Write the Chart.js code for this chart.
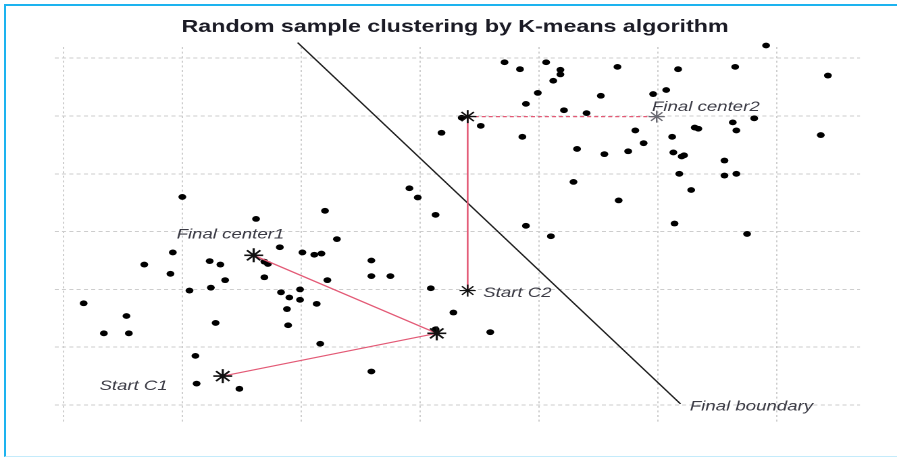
<!DOCTYPE html>
<html>
<head>
<meta charset="utf-8">
<title>Random sample clustering by K-means algorithm</title>
<script src="https://cdn.jsdelivr.net/npm/chart.js@4/dist/chart.umd.min.js"></script>
<style>
  html, body { margin: 0; padding: 0; background: #fff; }
  #page { position: relative; width: 897px; height: 457px; overflow: hidden; background: #fff; }
  #frame {
    position: absolute; left: 4px; top: 4px; width: 920px; height: 450px;
    border-top: 2px solid #1db3ef; border-left: 2px solid #1db3ef; border-bottom: 1px solid #c4ebfb;
    pointer-events: none; z-index: 2;
  }
  /* the plot is laid out at 664px and widened to the full 897px page */
  #wrap { position: absolute; left: 0; top: 0; width: 664px; height: 457px; transform: scaleX(1.3509); transform-origin: 0 0; }
</style>
</head>
<body>
<div id="page">
  <div id="wrap"><canvas id="chart"></canvas></div>
  <div id="frame"></div>
</div>
<script>
// ---- data -------------------------------------------------------------
const chartTitle = 'Random sample clustering by K-means algorithm';

// random sample (two clusters)
const sampleX = [3.71, 3.84, 4.06, 4.18, 4.18, 4.12, 3.99, 3.89, 4.21, 4.40,
                 4.52, 4.66, 4.96, 5.07, 5.17, 5.65, 5.91, 6.43, 3.35, 3.51,
                 3.18, 3.86, 4.32, 4.55, 4.75, 4.81, 4.88, 5.81, 5.63, 5.66,
                 5.31, 5.34, 5.12, 6.37, 5.13, 5.20, 5.22, 5.56, 5.18, 5.56,
                 5.66, 5.28, 5.14, 5.75, 4.29, 4.67, 3.89, 4.10, 2.91, 2.98,
                 3.13, 1.00, 2.20, 1.62, 2.30, 1.82, 0.92, 0.68, 0.90, 1.23,
                 1.32, 1.36, 1.69, 1.69, 1.72, 2.01, 2.11, 2.17, 2.22, 2.59,
                 2.59, 2.75, 3.09, 0.17, 0.53, 0.34, 0.55, 1.06, 1.24, 1.28,
                 1.83, 1.90, 1.99, 1.99, 2.13, 1.88, 1.89, 2.16, 2.59, 3.28,
                 3.13, 3.59, 1.11, 1.12, 1.48];
const sampleY = [5.93, 5.81, 5.93, 5.80, 5.72, 5.61, 5.40, 5.21, 5.10, 5.05,
                 5.35, 5.85, 5.38, 5.45, 5.81, 5.85, 6.22, 5.70, 4.97, 4.83,
                 4.71, 4.64, 4.43, 4.34, 4.39, 4.75, 4.53, 4.96, 4.89, 4.75,
                 4.80, 4.78, 4.64, 4.67, 4.37, 4.30, 4.32, 4.23, 4.00, 3.97,
                 4.00, 3.72, 3.14, 2.96, 3.86, 3.54, 3.10, 2.92, 3.75, 3.59,
                 3.29, 3.60, 3.36, 3.22, 2.87, 2.73, 2.64, 2.43, 2.27, 2.49,
                 2.43, 2.16, 2.21, 2.48, 2.44, 2.64, 2.60, 2.62, 2.16, 2.50,
                 2.23, 2.23, 2.02, 1.76, 1.54, 1.24, 1.24, 1.98, 2.03, 1.42,
                 1.95, 1.86, 2.00, 1.82, 1.75, 1.66, 1.38, 1.06, 0.58, 1.60,
                 1.31, 1.26, 0.85, 0.37, 0.28];

// centre 1: start -> update -> final
const c1PathX = [1.34, 3.14, 1.60];
const c1PathY = [0.50, 1.24, 2.59];
// centre 2: start -> update -> final
const c2PathX = [3.40, 3.40, 4.99];
const c2PathY = [1.98, 4.99, 4.99];

// final decision boundary
const boundaryX = [1.97, 5.19];
const boundaryY = [6.27, 0.02];

const labelTexts = ['Start C1', 'Final center1', 'Start C2', 'Final center2', 'Final boundary'];

// grid positions and plotting range
const xGrid = [0, 1, 2, 3, 4, 5, 6];
const yGrid = [0, 1, 2, 3, 4, 5, 6];
const xRange = [-0.071, 6.70];
const yRange = [-0.294, 6.194];

// ---- helpers ------------------------------------------------------------
const toPoints = (xs, ys) => xs.map((v, i) => ({ x: v, y: ys[i] }));
const PINK = '#e35a76';

const annotationText = {
  id: 'annotationText',
  afterDraw(chart) {
    const { ctx, chartArea } = chart;
    const xs = chart.scales.x, ys = chart.scales.y;
    ctx.save();
    ctx.textBaseline = 'alphabetic';
    ctx.fillStyle = '#1b1b25';
    ctx.font = "bold 17.2px 'Liberation Sans', Arial, sans-serif";
    ctx.textAlign = 'center';
    ctx.fillText(chartTitle, (chartArea.left + chartArea.right) / 2 - 1.8, 32);

    ctx.fillStyle = '#3b3b45';
    ctx.font = "italic 13.8px 'Liberation Sans', Arial, sans-serif";
    const put = (text, vx, vy, dx, dy, align) => {
      ctx.textAlign = align;
      ctx.fillText(text, xs.getPixelForValue(vx) + dx, ys.getPixelForValue(vy) + dy);
    };
    put(labelTexts[0], c1PathX[0], c1PathY[0], -40.7, 14, 'right');
    put(labelTexts[1], c1PathX[2], c1PathY[2], -17.2, -17, 'center');
    put(labelTexts[2], c2PathX[0], c2PathY[0], 11.5, 6.2, 'left');
    put(labelTexts[3], c2PathX[2], c2PathY[2], -3.5, -5.8, 'left');
    put(labelTexts[4], boundaryX[1], boundaryY[1], 6.9, 6.5, 'left');
    ctx.restore();
  }
};

const gridTicks = values => axis => { axis.ticks = values.map(v => ({ value: v })); };

new Chart(document.getElementById('chart'), {
  type: 'scatter',
  data: {
    datasets: [
      {
        label: 'samples',
        data: toPoints(sampleX, sampleY),
        pointRadius: 2.9,
        pointBorderWidth: 0,
        pointBackgroundColor: '#000',
        pointBorderColor: '#000',
        clip: false,
        order: 4
      },
      {
        label: 'boundary',
        data: toPoints(boundaryX, boundaryY),
        showLine: true,
        borderColor: '#1c1c1c',
        borderWidth: 1.2,
        pointRadius: 0,
        clip: false,
        order: 3
      },
      {
        label: 'centre 1',
        data: toPoints(c1PathX, c1PathY),
        showLine: true,
        borderColor: PINK,
        borderWidth: 1.2,
        pointStyle: 'star',
        pointRadius: 7,
        pointBorderColor: '#111',
        pointBorderWidth: 1.6,
        order: 2
      },
      {
        label: 'centre 2',
        data: toPoints(c2PathX, c2PathY),
        showLine: true,
        borderColor: PINK,
        borderWidth: 1.3,
        segment: { borderDash: c => (c.p0DataIndex === 1 ? [3, 2.2] : undefined) },
        pointStyle: 'star',
        pointRadius: [6, 6.5, 6],
        pointBorderColor: ['#111', '#111', '#6a6a72'],
        pointBorderWidth: [1.2, 1.4, 1.2],
        order: 1
      }
    ]
  },
  options: {
    responsive: true,
    maintainAspectRatio: false,
    devicePixelRatio: 2,
    animation: false,
    events: [],
    layout: { padding: { left: 40.71, right: 27.39, top: 47, bottom: 35 } },
    plugins: { legend: { display: false }, tooltip: { enabled: false }, title: { display: false } },
    scales: {
      x: {
        type: 'linear', min: xRange[0], max: xRange[1], z: 1,
        afterBuildTicks: gridTicks(xGrid),
        ticks: { display: false },
        grid: { color: '#cdcdcd', lineWidth: 1, drawTicks: false },
        border: { display: false, dash: [2, 2.6] }
      },
      y: {
        type: 'linear', min: yRange[0], max: yRange[1], z: 1,
        afterBuildTicks: gridTicks(yGrid),
        ticks: { display: false },
        grid: { color: '#cdcdcd', lineWidth: 1, drawTicks: false },
        border: { display: false, dash: [3, 2.4] }
      }
    }
  },
  plugins: [annotationText]
});
</script>
</body>
</html>
